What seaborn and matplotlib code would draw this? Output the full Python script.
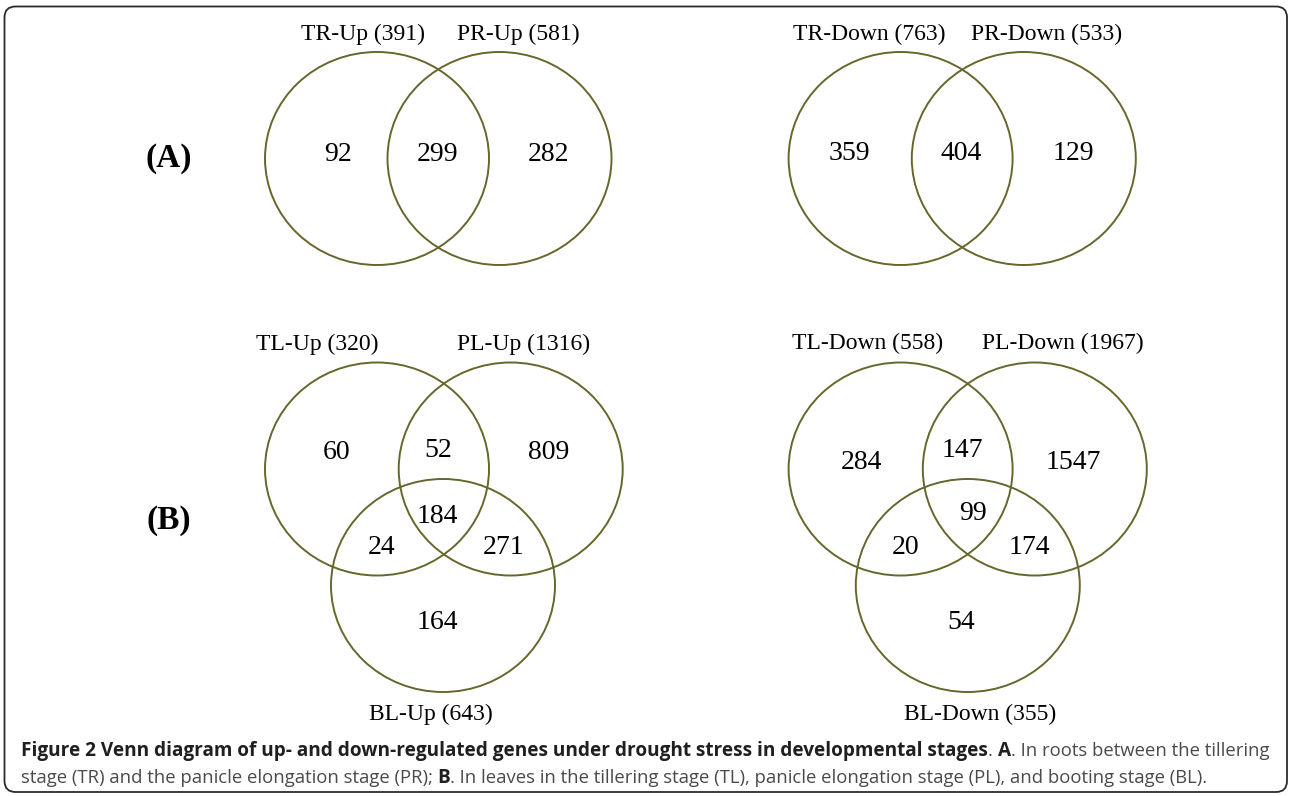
import matplotlib.pyplot as plt
import seaborn as sns
from matplotlib.patches import Ellipse, FancyBboxPatch

# ---- data ----
root_up_names = ["TR-Up", "PR-Up"]
root_up_totals = [391, 581]
root_up_counts = [92, 299, 282]          # only TR, both, only PR

root_down_names = ["TR-Down", "PR-Down"]
root_down_totals = [763, 533]
root_down_counts = [359, 404, 129]

leaf_up_names = ["TL-Up", "PL-Up", "BL-Up"]
leaf_up_totals = [320, 1316, 643]
# only TL, TL&PL, only PL, all, TL&BL, PL&BL, only BL
leaf_up_counts = [60, 52, 809, 184, 24, 271, 164]

leaf_down_names = ["TL-Down", "PL-Down", "BL-Down"]
leaf_down_totals = [558, 1967, 355]
leaf_down_counts = [284, 147, 1547, 99, 20, 174, 54]

panel_tags = ["(A)", "(B)"]

caption_1 = [("Figure 2 Venn diagram of up- and down-regulated genes under drought stress in developmental stages", "bold"),
             (". ", "normal"), ("A", "bold"), (". In roots between the tillering", "normal")]
caption_2 = [("stage (TR) and the panicle elongation stage (PR); ", "normal"), ("B", "bold"),
             (". In leaves in the tillering stage (TL), panicle elongation stage (PL), and booting stage (BL).", "normal")]

# ---- layout (pixel coords, y down) ----
RX, RY = 112, 106.5
venns = [
    dict(names=root_up_names, totals=root_up_totals, counts=root_up_counts,
         centers=[(377, 158.5), (499.5, 158.5)],
         label_xy=[(363, 40), (518.7, 40)],
         count_xy=[(338, 161), (438, 161), (548.5, 161)]),
    dict(names=root_down_names, totals=root_down_totals, counts=root_down_counts,
         centers=[(900.6, 158.5), (1023.8, 158.5)],
         label_xy=[(869.5, 40), (1046.6, 40)],
         count_xy=[(849.5, 160), (961.6, 160), (1073.6, 160)]),
    dict(names=leaf_up_names, totals=leaf_up_totals, counts=leaf_up_counts,
         centers=[(377, 469), (510.7, 469), (443, 585.5)],
         label_xy=[(317.4, 350), (523.6, 350), (430.7, 720)],
         count_xy=[(337, 459), (437.7, 457), (548.5, 459), (437.7, 523),
                   (381.7, 554), (504, 554), (437.7, 629)]),
    dict(names=leaf_down_names, totals=leaf_down_totals, counts=leaf_down_counts,
         centers=[(900.6, 469), (1034.8, 469), (967.8, 585.5)],
         label_xy=[(868, 349), (1062.4, 349), (980, 720)],
         count_xy=[(861, 469), (962.4, 457), (1073.6, 469), (973, 520),
                   (905.6, 554), (1029, 554), (961.6, 629)]),
]
tag_xy = [(169, 167), (169, 529)]

sns.set_theme(style="white")
plt.rcParams['font.family'] = ['Liberation Serif', 'DejaVu Serif']

fig = plt.figure(figsize=(12.9, 7.96), dpi=100)
ax = fig.add_axes([0, 0, 1, 1])
ax.set_xlim(0, 1290)
ax.set_ylim(796, 0)
ax.axis("off")

circle_color = "#67662c"

for v in venns:
    for (cx, cy) in v["centers"]:
        ax.add_patch(Ellipse((cx, cy), 2 * RX, 2 * RY, fill=False, ec=circle_color, lw=1.4))
    for name, tot, (x, y) in zip(v["names"], v["totals"], v["label_xy"]):
        ax.text(x, y, f"{name} ({tot})", ha="center", va="baseline", fontsize=17, color="black")
    for c, (x, y) in zip(v["counts"], v["count_xy"]):
        ax.text(x, y, str(c), ha="center", va="baseline", fontsize=20, color="black")

for tag, (x, y) in zip(panel_tags, tag_xy):
    ax.text(x, y, tag, ha="center", va="baseline", fontsize=24, fontweight="bold", color="black")

# frame
ax.add_patch(FancyBboxPatch((4.5, 6.5), 1282.5, 785.5, boxstyle="round,pad=0,rounding_size=11",
                            fill=False, ec="#2b2b2b", lw=1.3))

# caption, laid out run by run
fonts = {"bold": ['Open Sans', 'DejaVu Sans'],
         "normal": ['Open Sans', 'DejaVu Sans']}
colors = {"bold": "#1f1f1f", "normal": "#4a4a4a"}
renderer = fig.canvas.get_renderer()


def run_width(text, weight, size):
    t1 = ax.text(0, 0, "|" + text + "|", fontsize=size, fontweight=weight, family=fonts[weight])
    t2 = ax.text(0, 0, "||", fontsize=size, fontweight=weight, family=fonts[weight])
    w = t1.get_window_extent(renderer).width - t2.get_window_extent(renderer).width
    t1.remove()
    t2.remove()
    return w


# in the reference the bold headline spans ~967 px and the second line ~1185 px
sizes = {"bold": 12 * 967 / run_width(caption_1[0][0], "bold", 12)}
b_w = run_width("B", "bold", sizes["bold"])
reg_w = sum(run_width(t, "normal", 12) for t, w in caption_2 if w == "normal")
sizes["normal"] = 12 * (1185 - b_w) / reg_w


def put_runs(runs, x, y):
    for text, weight in runs:
        ax.text(x, y, text, ha="left", va="baseline", fontsize=sizes[weight], fontweight=weight,
                family=fonts[weight], color=colors[weight])
        x += run_width(text, weight, sizes[weight])


put_runs(caption_1, 21, 756)
put_runs(caption_2, 21, 783)

fig.savefig("out.png", dpi=100)
